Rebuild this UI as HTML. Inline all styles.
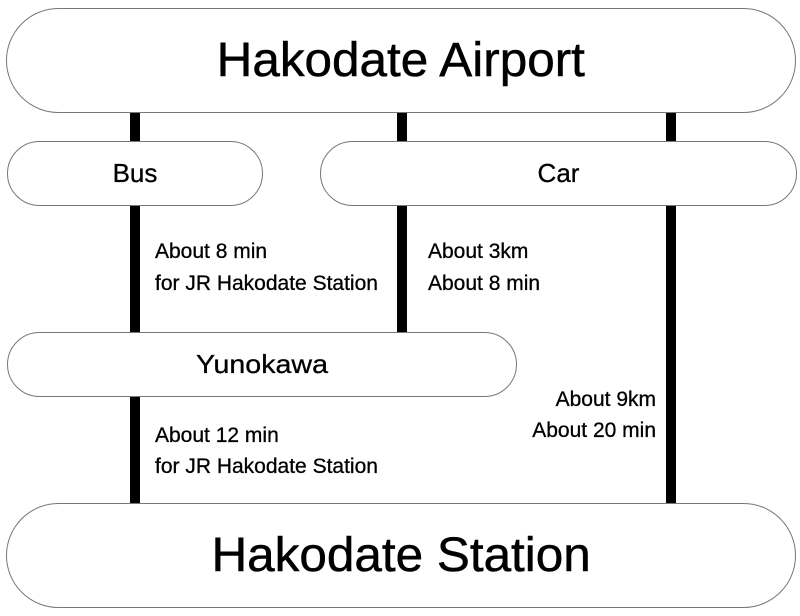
<!DOCTYPE html>
<html><head><meta charset="utf-8"><style>
body{margin:0;width:800px;height:616px;background:#fff;position:relative;overflow:hidden;font-family:"Liberation Sans","DejaVu Sans",sans-serif;color:#000}
.p{position:absolute;box-sizing:border-box;border:1.3px solid #777;background:#fff;display:flex;align-items:center;justify-content:center}
.l{position:absolute;background:#000;width:10px}
.t{position:absolute;white-space:nowrap;line-height:1;font-size:21px;-webkit-text-stroke:0.3px #000}
.c{-webkit-text-stroke:0.5px #000}
</style></head><body>
<div class="l" style="left:130px;top:100px;height:410px"></div>
<div class="l" style="left:397px;top:100px;height:240px"></div>
<div class="l" style="left:666px;top:100px;height:410px"></div>

<div class="p" style="left:6px;top:8px;width:790px;height:105px;border-radius:53px"><span class="c" style="font-size:48px;transform:scaleX(1.03)">Hakodate Airport</span></div>
<div class="p" style="left:7px;top:141px;width:256px;height:65px;border-radius:33px"><span class="c" style="font-size:26px;-webkit-text-stroke:0.3px #000">Bus</span></div>
<div class="p" style="left:320px;top:141px;width:477px;height:65px;border-radius:33px"><span class="c" style="font-size:26px;-webkit-text-stroke:0.3px #000">Car</span></div>
<div class="p" style="left:7px;top:332px;width:510px;height:65px;border-radius:33px"><span class="c" style="font-size:26px;-webkit-text-stroke:0.3px #000;transform:scaleX(1.1)">Yunokawa</span></div>
<div class="p" style="left:6px;top:503px;width:790px;height:105px;border-radius:53px"><span class="c" style="font-size:48px;transform:scaleX(1.03)">Hakodate Station</span></div>

<div class="t" style="left:155px;top:241px">About 8 min</div>
<div class="t" style="left:155px;top:273px">for JR Hakodate Station</div>
<div class="t" style="left:428px;top:241px">About 3km</div>
<div class="t" style="left:428px;top:273px">About 8 min</div>
<div class="t" style="right:144px;top:389px">About 9km</div>
<div class="t" style="right:144px;top:420px">About 20 min</div>
<div class="t" style="left:155px;top:425px">About 12 min</div>
<div class="t" style="left:155px;top:456px">for JR Hakodate Station</div>
</body></html>
